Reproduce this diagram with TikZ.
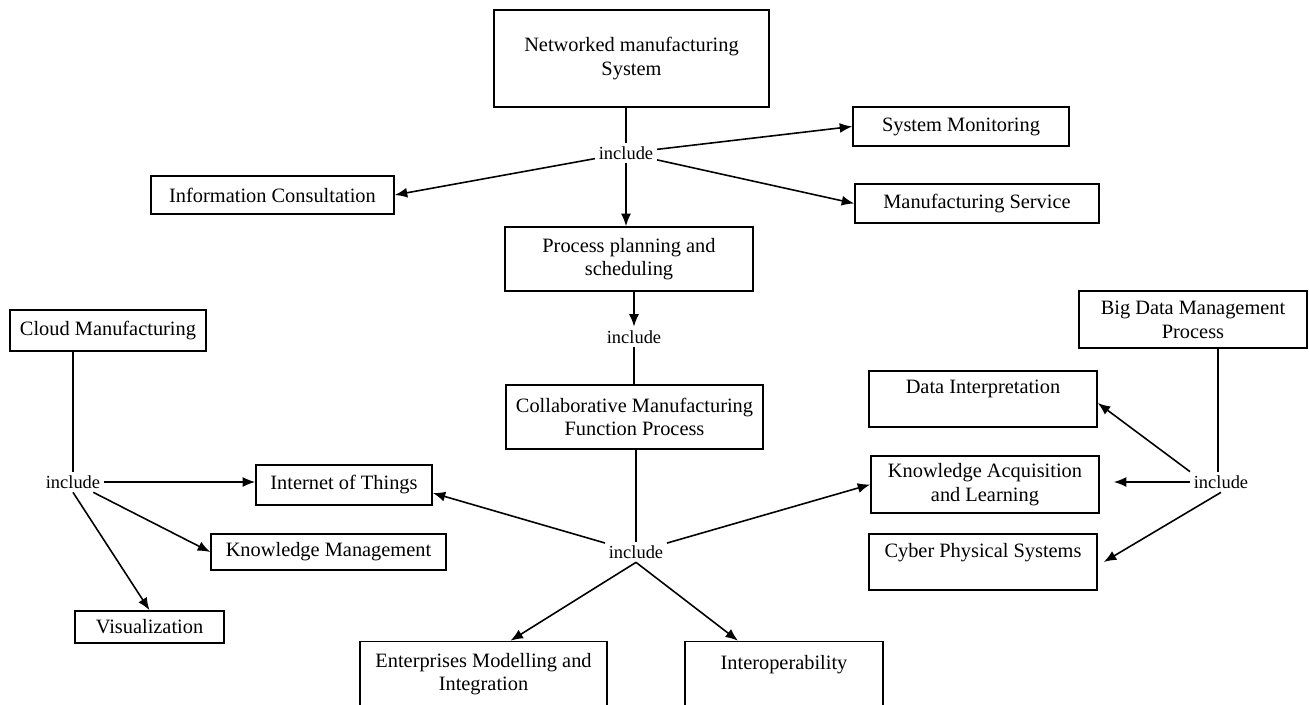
\documentclass[tikz,border=0pt]{standalone}
\usepackage{fontspec}
\setmainfont{Liberation Serif}
\usetikzlibrary{arrows.meta,calc}
\begin{document}
\begin{tikzpicture}[x=0.02cm, y=-0.02cm,
    block/.style={draw, line width=0.9pt, align=center, inner sep=2pt,
      font=\fontsize{11.6}{13.5}\selectfont},
    incl/.style={inner sep=2pt, font=\fontsize{10.5}{12}\selectfont},
    link/.style={line width=0.9pt},
    arr/.style={line width=0.9pt, -{Latex[length=2.5mm, width=2mm]}}]
    \useasboundingbox (0, 0) rectangle (1309, 705);
    \node[block, minimum width=5.5cm, minimum height=1.94cm] (nms) at (631.5, 58.5) {Networked manufacturing\\System};
    \node[incl] (inc1) at (626, 153) {include};
    \node[block, minimum width=4.32cm, minimum height=0.78cm] (sysmon) at (961, 126.5) {System Monitoring};
    \node[block, minimum width=4.88cm, minimum height=0.78cm] (mfgserv) at (977, 203.5) {Manufacturing Service};
    \node[block, minimum width=4.86cm, minimum height=0.76cm] (infocons) at (272.5, 195) {Information Consultation};
    \node[block, minimum width=4.96cm, minimum height=1.28cm] (procplan) at (629, 259) {Process planning and\\scheduling};
    \node[incl] (inc2) at (634, 337) {include};
    \node[block, minimum width=5.14cm, minimum height=1.28cm] (collab) at (634.5, 417) {Collaborative Manufacturing\\Function Process};
    \node[incl] (inc3) at (636, 552) {include};
    \node[block, minimum width=4.94cm, minimum height=1.3cm] (ent) at (483.5, 674) {Enterprises Modelling and\\Integration};
    \node[block, minimum width=3.96cm, minimum height=1.3cm] (interop) at (784, 674) {Interoperability\\~};
    \node[block, minimum width=3.92cm, minimum height=0.82cm] (cloud) at (108, 330.5) {Cloud Manufacturing};
    \node[incl] (inc4) at (73, 482) {include};
    \node[block, minimum width=3.52cm, minimum height=0.8cm] (iot) at (344, 485) {Internet of Things};
    \node[block, minimum width=4.7cm, minimum height=0.72cm] (km) at (328.5, 552) {Knowledge Management};
    \node[block, minimum width=2.98cm, minimum height=0.64cm] (vis) at (149.5, 627) {Visualization};
    \node[block, minimum width=4.56cm, minimum height=1.14cm] (bigdata) at (1193, 319.5) {Big Data Management\\Process};
    \node[incl] (inc5) at (1221, 482) {include};
    \node[block, minimum width=4.56cm, minimum height=1.12cm] (datainterp) at (983, 399) {Data Interpretation\\~};
    \node[block, minimum width=4.56cm, minimum height=1.14cm] (kaq) at (985, 484.5) {Knowledge Acquisition\\and Learning};
    \node[block, minimum width=4.56cm, minimum height=1.12cm] (cps) at (983, 562) {Cyber Physical Systems\\~};

    \draw[link] (nms.south -| inc1.north) -- (inc1.north);
    \draw[arr] (inc1) -- (sysmon.west);
    \draw[arr] (inc1) -- (mfgserv.west);
    \draw[arr] (inc1) -- (infocons.east);
    \draw[arr] (inc1.south) -- (inc1.south |- procplan.north);
    \draw[arr] (procplan.south -| inc2.north) -- (inc2.north);
    \draw[link] (inc2.south) -- (inc2.south |- collab.north);
    \draw[link] (collab.south -| inc3.north) -- (inc3.north);
    \draw[arr] (inc3) -- ($(iot.east)+(0, 8)$);
    \draw[arr] (inc3) -- (kaq.west);
    \draw[arr] (inc3.south) -- ($(ent.north)+(27, 0)$);
    \draw[arr] (inc3.south) -- ($(interop.north)+(-46, 0)$);
    \draw[link] (inc4.north |- cloud.south) -- (inc4.north);
    \draw[arr] (inc4.east) -- (inc4.east -| iot.west);
    \draw[arr] (inc4) -- (km.west);
    \draw[arr] (inc4.south) -- (vis.north);
    \draw[link] (inc5.north -| bigdata.south east) ++(-90, 0) coordinate (bd) (bd |- bigdata.south) -- (bd);
    \draw[arr] (inc5.north west) -- ($(datainterp.east)+(0, 4)$);
    \draw[arr] (inc5.west) -- ($(inc5.west -| kaq.east)+(14, 0)$);
    \draw[arr] (inc5.south) -- ($(cps.east)+(6, 0)$);
\end{tikzpicture}
\end{document}
